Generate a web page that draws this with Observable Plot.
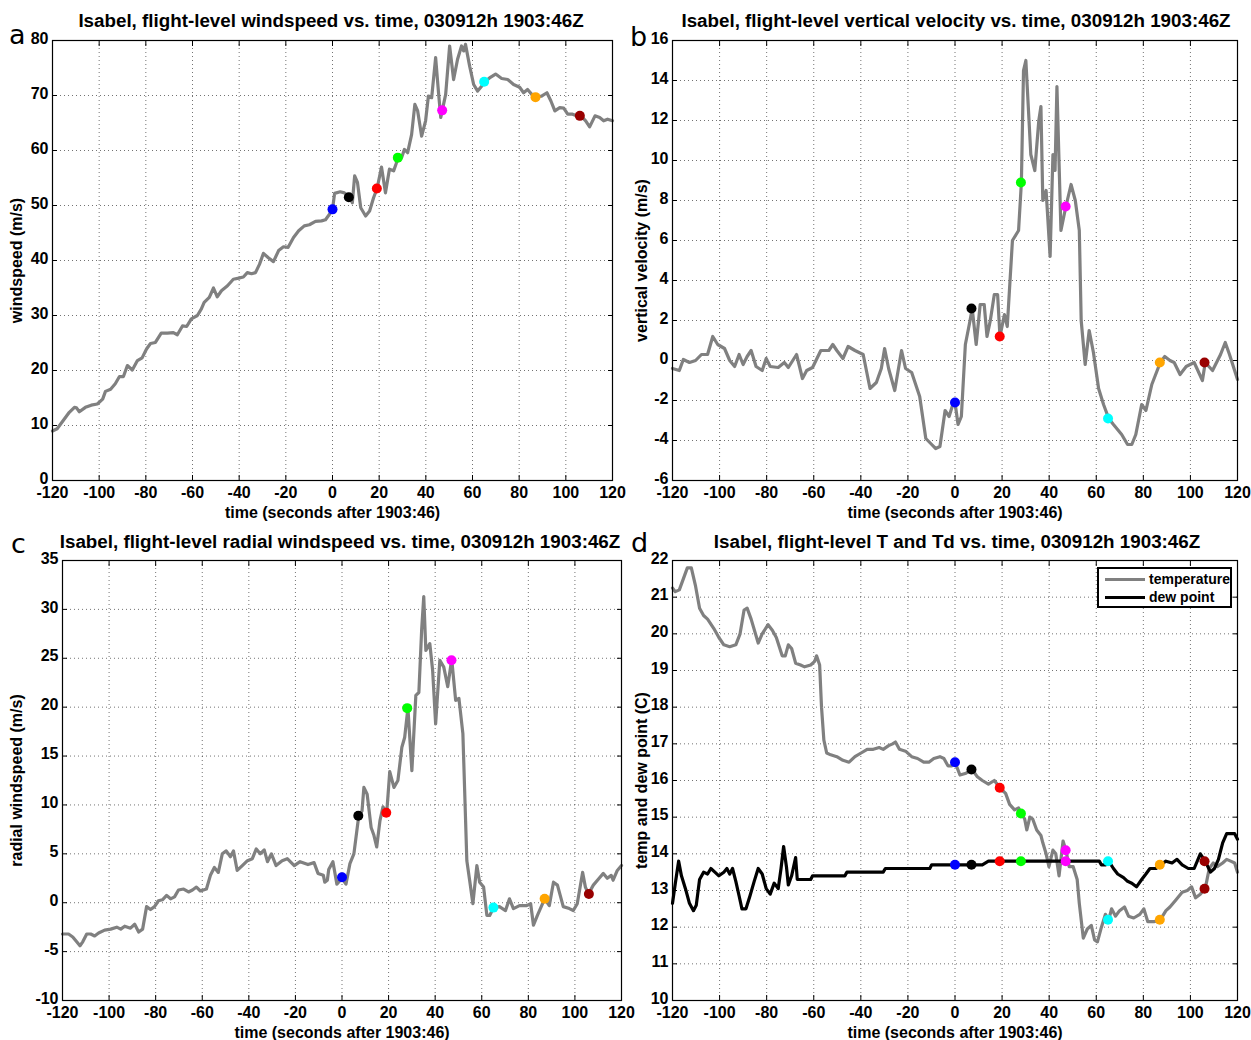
<!DOCTYPE html>
<html><head><meta charset="utf-8">
<script src="https://cdn.jsdelivr.net/npm/d3@7"></script>
<script src="https://cdn.jsdelivr.net/npm/@observablehq/plot@0.6"></script>
<style>
body{margin:0;background:#fff;}
#root{position:relative;width:1251px;height:1040px;overflow:hidden;background:#fff;font-family:"Liberation Sans",Arial,sans-serif;}
.panel{position:absolute;}
.panel svg{overflow:visible;}
#overlay{position:absolute;left:0;top:0;pointer-events:none;}
.legend{position:absolute;left:1097px;top:567px;width:131px;height:37px;border:2px solid #000;background:#fff;font-weight:bold;font-size:14px;}
.legend .row{position:absolute;left:6px;height:16px;display:flex;align-items:center;white-space:nowrap;}
.legend .sw{width:40px;height:0;border-top:3px solid;margin-right:4px;}
</style></head><body>
<div id="root"></div>
<script>
// ---------- data (time in seconds after 1903:46) ----------
const xTicks = [-120,-100,-80,-60,-40,-20,0,20,40,60,80,100,120];
const markerTimes  = [0, 7, 19, 28, 47, 65, 87, 106];
const markerColors = ["#0000ff","#000000","#ff0000","#00ff00","#ff00ff","#00ffff","#ffa500","#990000"];

const windspeed = [[-120,9],[-118,9.4],[-115.4,10.9],[-112.8,12.4],[-110.6,13.3],[-109.7,13.2],[-108.5,12.5],[-105.9,13.3],[-103.4,13.7],[-100.8,13.9],[-98.5,14.8],[-97.3,16.2],[-95.1,16.6],[-93.1,17.6],[-91.3,18.9],[-89.6,18.9],[-87.9,20.9],[-85.8,20.1],[-83.6,21.8],[-81.6,22.3],[-79.7,23.9],[-78,24.9],[-75.9,25.1],[-73.4,26.8],[-70.8,26.8],[-68.2,26.9],[-66.5,26.5],[-64.3,28.1],[-62.5,28],[-60.5,29.4],[-57.9,30],[-56.2,31.2],[-55,32.4],[-52.8,33.3],[-51,35],[-49.4,33.4],[-47.6,34.5],[-45,35.4],[-42.5,36.6],[-40.2,36.8],[-38.2,37],[-36.5,37.8],[-34.7,37.6],[-33,37.8],[-31.3,39.3],[-29.6,41.3],[-27.5,40.5],[-25.3,39.8],[-23.1,41.8],[-21,42.5],[-19,42.4],[-16.7,44.2],[-14.5,45.4],[-12.1,46.3],[-9.9,46.5],[-7.3,47.1],[-4.7,47.2],[-3,47.4],[-1.3,48.4],[0,49.3],[0.9,52.2],[3.3,52.5],[5.1,52.3],[7.3,51.5],[8.5,50.5],[9.5,55.4],[10.7,54.2],[12.1,49.6],[14.2,48.1],[15.9,49],[17.6,51.4],[19.1,53.1],[21,57],[22.7,52.3],[24.4,56.6],[26.2,56.3],[27.2,57.5],[28.2,58.8],[29.6,58.7],[30.8,60.2],[32.2,59.6],[33.9,62.9],[35.3,68.4],[36.5,67.2],[38.2,62.6],[39.9,65.4],[41.1,69.9],[42.5,69.6],[44.2,76.9],[45.5,70.2],[46.4,66],[47.1,67.4],[48.5,70.2],[50.2,79],[51.9,72.9],[53.6,76.6],[55.3,79],[56.2,78.1],[57,79.3],[58.8,75.3],[60.5,72],[62.2,70.8],[63.9,71.7],[65.3,72.5],[67.3,73.2],[69.9,73.9],[72.5,73.1],[75.1,72.9],[77.6,72],[80.2,71.5],[81.9,70.5],[83.6,71.1],[85.4,70.2],[87.2,69.8],[89.6,69.9],[91.9,70.5],[93.6,69],[95.3,67.2],[97.4,67.8],[99.1,67.7],[100.8,66.6],[102.9,66.6],[104.6,66.3],[106.3,66.4],[108.5,65.4],[110.2,64.3],[112.5,66.3],[114.5,66],[116.2,65.4],[117.9,65.7],[120,65.4]];
const windMarkers = [49.3, 51.5, 53.1, 58.7, 67.3, 72.5, 69.7, 66.3];

const vertVel = [[-120,-0.4],[-117.1,-0.5],[-115.4,0.05],[-112.8,-0.1],[-110.2,0],[-107.7,0.3],[-105.1,0.3],[-102.9,1.2],[-100.8,0.8],[-97.9,0.6],[-95.7,0],[-93.6,-0.3],[-91.7,0.3],[-90,-0.2],[-88.3,0.2],[-86.6,0.5],[-84.5,-0.3],[-81.9,-0.5],[-80.2,0.1],[-78.5,-0.3],[-75.1,-0.35],[-72.5,-0.1],[-70.8,-0.35],[-67.3,0.3],[-64.8,-0.9],[-63,-0.5],[-60.5,-0.35],[-57,0.5],[-53.6,0.5],[-51.9,0.8],[-50.2,0.5],[-47.6,0.1],[-45.4,0.7],[-42.5,0.5],[-39,0.3],[-36.1,-1.4],[-33.4,-1.1],[-31.3,-0.4],[-29.9,0.6],[-28.2,-0.4],[-25.6,-1.5],[-22.7,0.5],[-21,-0.4],[-18.4,-0.6],[-15,-1.8],[-12.4,-3.9],[-9.9,-4.2],[-8.2,-4.4],[-6.4,-4.3],[-4.2,-2.5],[-2.5,-2.8],[-0.4,-2],[0,-2.1],[1.3,-3.2],[2.7,-2.8],[4.4,0.8],[6.4,2],[7.3,2.6],[9,0.8],[10.7,2.8],[12.4,2.8],[13.6,1.2],[15,2],[16.7,3.3],[18.1,3.3],[19.1,1.2],[21,2.3],[22.2,1.7],[24.4,6],[27,6.5],[28.2,8.9],[29.1,14.5],[30.1,15],[32.2,10.3],[33.9,9.5],[35.6,12],[36.5,12.7],[37.3,8],[38.7,8.5],[40.4,5.2],[41.6,10.3],[42.5,9.5],[43.3,13.7],[45,6.5],[47.1,7.7],[49.3,8.8],[51.1,8],[52.8,6.5],[53.6,2],[55.3,-0.2],[57,1.5],[58.8,0.4],[61,-1.4],[63.1,-2.2],[65.3,-2.9],[67.3,-3.2],[70.8,-3.7],[73.3,-4.2],[75.1,-4.2],[76.8,-3.7],[79.3,-2.2],[81.1,-2.5],[83.6,-1.2],[87.2,-0.1],[89.1,0.2],[91.3,0],[93.1,-0.1],[95.6,-0.7],[98.2,-0.3],[101.6,-0.1],[105.1,-1],[106.3,-0.1],[109.4,-0.5],[112.8,0.3],[114.8,0.9],[116.6,0.3],[120,-0.95]];
const vertMarkers = [-2.1, 2.6, 1.2, 8.9, 7.7, -2.9, -0.1, -0.1];

const radial = [[-120,-3.2],[-117.4,-3.2],[-115.6,-3.5],[-113.9,-4],[-112.5,-4.4],[-111.3,-4],[-109.6,-3.2],[-107.9,-3.2],[-106.2,-3.4],[-104.5,-3.1],[-101.9,-2.8],[-99.3,-2.7],[-96.7,-2.5],[-95,-2.7],[-93.3,-2.4],[-90.8,-2.6],[-89,-2.2],[-87.3,-3],[-85.6,-2.7],[-83.9,-0.4],[-82.2,-0.7],[-80.5,-0.4],[-78.8,0.2],[-77.1,0.3],[-75.3,0.75],[-73.6,0.4],[-71.9,0.6],[-70.2,1.3],[-68,1.4],[-65.9,1.1],[-64.2,1.3],[-62.5,1.6],[-60.8,1.2],[-58.2,1.4],[-56.5,2.8],[-54.8,3.6],[-53.1,3.1],[-51.4,5],[-49.7,5.3],[-47.9,4.7],[-46.6,5.3],[-45,3.3],[-42.8,3.8],[-40.6,4.3],[-38.5,4.5],[-36.8,5.5],[-35.1,5],[-33.4,5.4],[-32,4.2],[-30.3,5],[-28.3,3.8],[-25.7,4.3],[-23.5,4.5],[-20.5,3.8],[-18,4.2],[-14.6,3.9],[-12,4.1],[-10.3,3],[-8,2.8],[-7.4,2.1],[-6.3,2.3],[-5.7,3.4],[-3.9,4.2],[-2.2,1.9],[0,2.5],[1.7,1.9],[3.4,4],[5.1,5],[7.2,8.9],[8.6,9.4],[9.4,11.8],[10.8,11.1],[12.5,7.7],[13.7,6.9],[14.9,5.7],[16.3,8.4],[17.6,9.8],[19.2,9.2],[20.5,13.4],[22.3,11.8],[24,12.5],[25.7,15.9],[26.9,16.9],[28.3,19.9],[30,13.5],[31.7,21.2],[33,21.5],[34.2,27.9],[35.1,31.3],[36,25.8],[37.7,26.5],[38.9,23.8],[40.2,18.3],[42,24.8],[43.7,24.1],[45.4,22.1],[47.1,24.9],[48.8,20.7],[50.2,20.9],[51.9,17.3],[53.6,4.3],[54.8,2.3],[56.2,-0.1],[57.9,3.8],[59.1,2.1],[60.8,1.6],[62.2,-1.3],[63.4,-1.3],[65.1,-0.5],[67.6,-0.4],[70.2,-0.8],[71.9,0.4],[73.6,-0.6],[76.2,-0.3],[79.3,-0.3],[81,-0.1],[82.2,-2.3],[83.9,-1.3],[87,0.4],[89,-0.3],[90.8,2.1],[92.5,1.8],[95,-0.4],[97.6,-0.6],[99.3,-0.8],[101,-0.1],[103.3,3.1],[104.5,1.6],[105.8,0.9],[107.9,1.8],[110.4,2.5],[112.2,3],[113.9,2.5],[115.6,2.8],[116.4,2.3],[118.2,3.3],[120,3.8]];
const radialMarkers = [2.6, 8.9, 9.2, 19.9, 24.8, -0.5, 0.4, 0.9];

const temperature = [[-120,21.25],[-118.8,21.15],[-117.1,21.2],[-115.4,21.5],[-113.7,21.8],[-112,21.8],[-110.2,21.3],[-108.5,20.7],[-106.8,20.5],[-105.1,20.4],[-102.5,20.15],[-100.3,19.9],[-98.2,19.7],[-95.7,19.65],[-93.1,19.7],[-91.3,20],[-89.6,20.65],[-88.3,20.7],[-86.6,20.4],[-83.6,19.75],[-81.9,20],[-79.4,20.25],[-77.6,20.1],[-75.9,19.9],[-73.4,19.4],[-72.1,19.4],[-70.8,19.7],[-69.4,19.6],[-67.7,19.2],[-65.6,19.15],[-63.9,19.1],[-61.3,19.15],[-59.6,19.25],[-58.8,19.4],[-57.5,19.15],[-56.7,18],[-55.7,17.1],[-54.5,16.75],[-52.8,16.7],[-50.2,16.65],[-47.6,16.55],[-45,16.5],[-42.5,16.65],[-39.9,16.75],[-37.3,16.85],[-34.7,16.85],[-32.2,16.9],[-30.5,16.85],[-28.2,16.95],[-26.5,17],[-25.3,17.05],[-23.6,16.85],[-21,16.8],[-18.4,16.65],[-15.9,16.6],[-13.3,16.5],[-11.1,16.5],[-9,16.6],[-6.4,16.65],[-4.7,16.6],[-3,16.4],[-1.3,16.4],[0,16.5],[2.1,16.15],[4.7,16.2],[7.3,16.3],[9.5,16.1],[11.6,16],[14.2,15.9],[16.7,16],[19.1,15.8],[21.5,15.65],[23.2,15.35],[25.3,15.2],[27,15.25],[28.2,15.1],[29.6,14.95],[30.5,14.65],[31.8,15],[33,14.95],[34.7,14.65],[36.5,14.5],[37.3,14.3],[38.7,14],[39.9,13.65],[41.6,14.1],[42.8,14],[44.2,13.4],[45.9,14.35],[47.1,14.1],[48.5,13.65],[50.2,13.65],[51.9,13.3],[52.8,12.65],[54.5,11.7],[56.2,11.95],[57.9,12.05],[59.3,11.65],[60.5,11.6],[62.2,12],[63.9,12.35],[65.3,12.2],[66.5,12.5],[68.2,12.3],[69.9,12.45],[72,12.55],[73.7,12.3],[75.9,12.25],[78.5,12.35],[80.2,12.5],[81.9,12.15],[84.5,12.15],[87.2,12.2],[89.6,12.45],[91.3,12.55],[93.9,12.75],[96.5,12.95],[98.7,13],[100.5,13.1],[102.2,12.8],[104.2,12.9],[106.3,13.05],[108,13.6],[109.7,13.75],[111.4,13.65],[113.7,13.75],[115.4,13.85],[117.1,13.8],[118.8,13.75],[120,13.5]];
const tempMarkers = [16.5, 16.3, 15.8, 15.1, 14.1, 12.2, 12.2, 13.05];

const dewPoint = [[-120,12.65],[-118.8,13.2],[-117.4,13.8],[-116.2,13.4],[-114.5,13.05],[-112.8,12.65],[-111.1,12.45],[-109.9,12.6],[-108.5,13.3],[-106.8,13.5],[-105.1,13.45],[-103.7,13.6],[-102,13.5],[-100.3,13.4],[-98.2,13.5],[-96.9,13.6],[-95.7,13.45],[-94.5,13.6],[-93.1,13.25],[-91.7,12.85],[-90.5,12.5],[-88.8,12.5],[-87.1,12.85],[-85.3,13.25],[-83.6,13.6],[-81.9,13.45],[-80.2,13.05],[-78.5,12.9],[-76.8,13.2],[-75.1,13.05],[-73.9,13.6],[-72.8,14.2],[-71.6,13.65],[-70.8,13.15],[-69.4,13.4],[-67.7,13.9],[-67,13.3],[-64.8,13.3],[-61.3,13.3],[-60.5,13.4],[-46.8,13.4],[-45.9,13.5],[-30.5,13.5],[-29.6,13.6],[-10.7,13.6],[-9.9,13.7],[11.6,13.7],[14.2,13.8],[61.3,13.8],[62.2,13.7],[63.9,13.7],[65.3,13.8],[67.3,13.6],[69.1,13.45],[71.6,13.35],[73.3,13.25],[75.1,13.2],[77.1,13.1],[79.3,13.3],[81.1,13.45],[82.8,13.6],[85.4,13.6],[87.2,13.7],[89.6,13.8],[92.2,13.75],[94.3,13.85],[96.5,13.7],[99.1,13.6],[101.6,13.6],[104.2,14],[106.3,13.8],[108.5,13.5],[110.2,13.6],[111.9,13.85],[113.7,14.3],[115.4,14.55],[118,14.55],[118.8,14.55],[120,14.4]];
const dewMarkers = [13.7, 13.7, 13.8, 13.8, 13.8, 13.8, 13.7, 13.8];

const titles = [
  "Isabel, flight-level windspeed vs. time, 030912h 1903:46Z",
  "Isabel, flight-level vertical velocity vs. time, 030912h 1903:46Z",
  "Isabel, flight-level radial windspeed vs. time, 030912h 1903:46Z",
  "Isabel, flight-level T and Td vs. time, 030912h 1903:46Z"
];
const panelLetters = ["a","b","c","d"];
const xLabel = "time (seconds after 1903:46)";

// ---------- drawing ----------
const root = document.getElementById("root");
const FONT = "'Liberation Sans', Arial, Helvetica, sans-serif";
const fmt = d => String(d);

function markersOf(vals) {
  return markerTimes.map((t, i) => ({t, v: vals[i], c: markerColors[i]}));
}

function makePanel(cfg) {
  const gridStyle = {stroke: "#000", strokeOpacity: 0.55, strokeDasharray: "1,3", strokeWidth: 1};
  const marks = [
    Plot.gridX(xTicks, gridStyle),
    Plot.gridY(cfg.yTicks, gridStyle),
    Plot.axisX(xTicks, {anchor: "bottom", tickSize: 0, tickPadding: 6, fontSize: 16, fontWeight: "bold", fill: "#000",
      tickFormat: fmt, label: xLabel, labelAnchor: "center", labelArrow: "none", labelOffset: 37}),
    Plot.axisX(xTicks, {anchor: "bottom", tickSize: 5, dy: -5, tickFormat: () => "", label: null, stroke: "#000"}),
    Plot.axisX(xTicks, {anchor: "top", tickSize: 5, dy: 5, tickFormat: () => "", label: null, stroke: "#000"}),
    Plot.axisY(cfg.yTicks, {anchor: "left", tickSize: 0, tickPadding: 4, dy: -2, fontSize: 16, fontWeight: "bold", fill: "#000",
      tickFormat: fmt, label: cfg.yLabel, labelAnchor: "center", labelArrow: "none", labelOffset: cfg.labelOffset}),
    Plot.axisY(cfg.yTicks, {anchor: "left", tickSize: 5, dx: 5, tickFormat: () => "", label: null, stroke: "#000"}),
    Plot.axisY(cfg.yTicks, {anchor: "right", tickSize: 5, dx: -5, tickFormat: () => "", label: null, stroke: "#000"})
  ];
  for (const s of cfg.series) {
    marks.push(Plot.line(s.data, {x: d => d[0], y: d => d[1], stroke: s.color, strokeWidth: 3.2, strokeLinejoin: "round"}));
  }
  for (const m of cfg.markers) {
    marks.push(Plot.dot(markersOf(m), {x: "t", y: "v", fill: "c", r: 5, stroke: null}));
  }
  marks.push(Plot.frame({stroke: "#000", strokeWidth: 1.2}));
  const svg = Plot.plot({
    width: cfg.width, height: 520,
    marginLeft: cfg.ml, marginRight: cfg.mr, marginTop: 40, marginBottom: 40,
    x: {domain: [-120, 120]},
    y: {domain: cfg.yDomain},
    color: {type: "identity"},
    style: {fontFamily: FONT, fontSize: "16px", fontWeight: "bold", color: "#000", background: "transparent", overflow: "visible"},
    marks
  });
  const div = document.createElement("div");
  div.className = "panel";
  div.style.left = cfg.left + "px";
  div.style.top = cfg.top + "px";
  div.appendChild(svg);
  root.appendChild(div);
}

const gray = "#808080";
makePanel({left: 0, top: 0, width: 625, ml: 52, mr: 13, yDomain: [0, 80], yTicks: d3.range(0, 81, 10),
  yLabel: "windspeed (m/s)", labelOffset: 42,
  series: [{data: windspeed, color: gray}], markers: [windMarkers]});
makePanel({left: 625, top: 0, width: 626, ml: 47, mr: 14, yDomain: [-6, 16], yTicks: d3.range(-6, 17, 2),
  yLabel: "vertical velocity (m/s)", labelOffset: 37,
  series: [{data: vertVel, color: gray}], markers: [vertMarkers]});
makePanel({left: 0, top: 520, width: 625, ml: 62, mr: 4, yDomain: [-10, 35], yTicks: d3.range(-10, 36, 5),
  yLabel: "radial windspeed (m/s)", labelOffset: 52,
  series: [{data: radial, color: gray}], markers: [radialMarkers]});
makePanel({left: 625, top: 520, width: 626, ml: 47, mr: 14, yDomain: [10, 22], yTicks: d3.range(10, 23, 1),
  yLabel: "temp and dew point (C)", labelOffset: 37,
  series: [{data: temperature, color: gray}, {data: dewPoint, color: "#000"}], markers: [tempMarkers, dewMarkers]});

// titles and panel letters
const ns = "http://www.w3.org/2000/svg";
const ov = document.createElementNS(ns, "svg");
ov.setAttribute("id", "overlay");
ov.setAttribute("width", 1251);
ov.setAttribute("height", 1040);
const titlePos = [[331, 27], [956, 27], [340, 548], [957, 548]];
const letterPos = [[9, 44], [630, 46], [11, 553], [631, 552]];
titles.forEach((t, i) => {
  const el = document.createElementNS(ns, "text");
  el.setAttribute("x", titlePos[i][0]);
  el.setAttribute("y", titlePos[i][1]);
  el.setAttribute("text-anchor", "middle");
  el.setAttribute("font-family", FONT);
  el.setAttribute("font-weight", "bold");
  el.setAttribute("font-size", "18.8");
  el.textContent = t;
  ov.appendChild(el);
});
panelLetters.forEach((t, i) => {
  const el = document.createElementNS(ns, "text");
  el.setAttribute("x", letterPos[i][0]);
  el.setAttribute("y", letterPos[i][1]);
  el.setAttribute("font-family", "'DejaVu Sans', sans-serif");
  el.setAttribute("font-size", "27");
  el.textContent = t;
  ov.appendChild(el);
});
root.appendChild(ov);

// legend for panel d
const leg = document.createElement("div");
leg.className = "legend";
[["temperature", gray, 2], ["dew point", "#000", 20]].forEach(([lab, col, top]) => {
  const row = document.createElement("div");
  row.className = "row";
  row.style.top = top + "px";
  const sw = document.createElement("div");
  sw.className = "sw";
  sw.style.borderTopColor = col;
  const tx = document.createElement("span");
  tx.textContent = lab;
  row.appendChild(sw); row.appendChild(tx);
  leg.appendChild(row);
});
root.appendChild(leg);
</script>
</body></html>
